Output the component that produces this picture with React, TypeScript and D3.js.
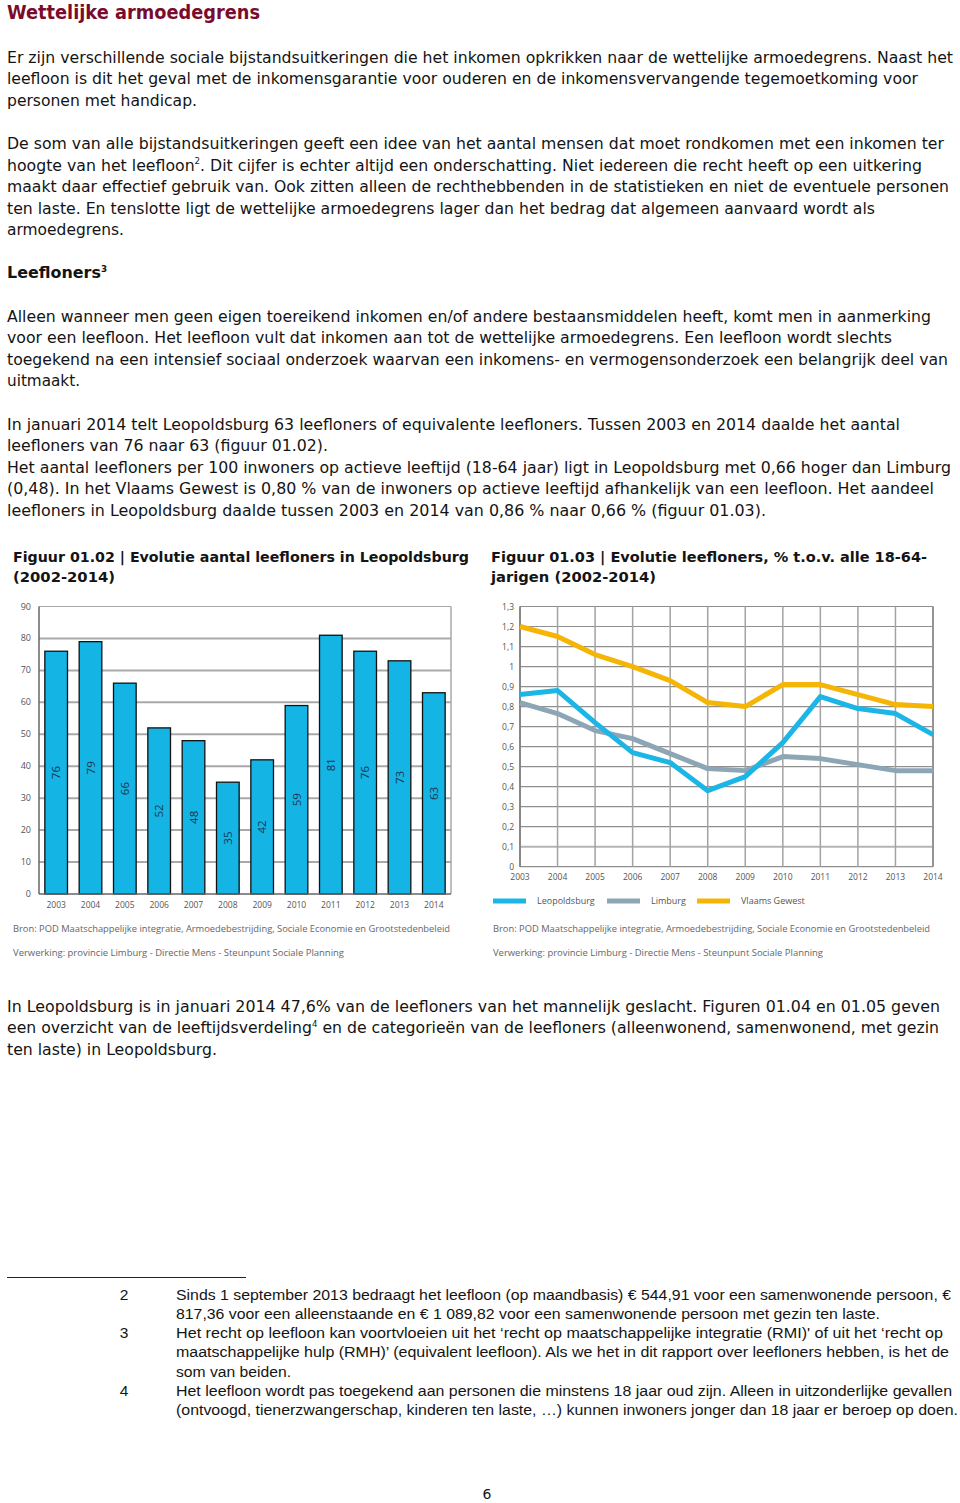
import React from "react";
import * as d3 from "d3";

// ---------- Chart data ----------
const barYears = ["2003", "2004", "2005", "2006", "2007", "2008", "2009", "2010", "2011", "2012", "2013", "2014"];
const barValues = [76, 79, 66, 52, 48, 35, 42, 59, 81, 76, 73, 63];
const barTicks = [0, 10, 20, 30, 40, 50, 60, 70, 80, 90];

const lineYears = ["2003", "2004", "2005", "2006", "2007", "2008", "2009", "2010", "2011", "2012", "2013", "2014"];
const leopoldsburg = [0.86, 0.88, 0.72, 0.57, 0.52, 0.38, 0.45, 0.62, 0.85, 0.79, 0.765, 0.66];
const limburg = [0.82, 0.765, 0.68, 0.64, 0.565, 0.49, 0.48, 0.55, 0.54, 0.51, 0.48, 0.48];
const vlaamsGewest = [1.2, 1.15, 1.06, 1.0, 0.93, 0.82, 0.8, 0.91, 0.91, 0.86, 0.81, 0.8];
const lineTicks = [0, 0.1, 0.2, 0.3, 0.4, 0.5, 0.6, 0.7, 0.8, 0.9, 1, 1.1, 1.2, 1.3];
const seriesNames = ["Leopoldsburg", "Limburg", "Vlaams Gewest"];

// ---------- Page text ----------
const title = "Wettelijke armoedegrens";
const para1 = [
  "Er zijn verschillende sociale bijstandsuitkeringen die het inkomen opkrikken naar de wettelijke armoedegrens. Naast het",
  "leefloon is dit het geval met de inkomensgarantie voor ouderen en de inkomensvervangende tegemoetkoming voor",
  "personen met handicap.",
];
const para2 = [
  "De som van alle bijstandsuitkeringen geeft een idee van het aantal mensen dat moet rondkomen met een inkomen ter",
  "hoogte van het leefloon^2. Dit cijfer is echter altijd een onderschatting. Niet iedereen die recht heeft op een uitkering",
  "maakt daar effectief gebruik van. Ook zitten alleen de rechthebbenden in de statistieken en niet de eventuele personen",
  "ten laste. En tenslotte ligt de wettelijke armoedegrens lager dan het bedrag dat algemeen aanvaard wordt als",
  "armoedegrens.",
];
const heading = "Leefloners^3";
const para3 = [
  "Alleen wanneer men geen eigen toereikend inkomen en/of andere bestaansmiddelen heeft, komt men in aanmerking",
  "voor een leefloon. Het leefloon vult dat inkomen aan tot de wettelijke armoedegrens. Een leefloon wordt slechts",
  "toegekend na een intensief sociaal onderzoek waarvan een inkomens- en vermogensonderzoek een belangrijk deel van",
  "uitmaakt.",
];
const para4 = [
  "In januari 2014 telt Leopoldsburg 63 leefloners of equivalente leefloners. Tussen 2003 en 2014 daalde het aantal",
  "leefloners van 76 naar 63 (figuur 01.02).",
  "Het aantal leefloners per 100 inwoners op actieve leeftijd (18-64 jaar) ligt in Leopoldsburg met 0,66 hoger dan Limburg",
  "(0,48). In het Vlaams Gewest is 0,80 % van de inwoners op actieve leeftijd afhankelijk van een leefloon. Het aandeel",
  "leefloners in Leopoldsburg daalde tussen 2003 en 2014 van 0,86 % naar 0,66 % (figuur 01.03).",
];
const fig1Title = ["Figuur 01.02 | Evolutie aantal leefloners in Leopoldsburg", "(2002-2014)"];
const fig2Title = ["Figuur 01.03 | Evolutie leefloners, % t.o.v. alle 18-64-", "jarigen (2002-2014)"];
const sourceLines = [
  "Bron: POD Maatschappelijke integratie, Armoedebestrijding, Sociale Economie en Grootstedenbeleid",
  "Verwerking: provincie Limburg - Directie Mens - Steunpunt Sociale Planning",
];
const para5 = [
  "In Leopoldsburg is in januari 2014 47,6% van de leefloners van het mannelijk geslacht. Figuren 01.04 en 01.05 geven",
  "een overzicht van de leeftijdsverdeling^4 en de categorieën van de leefloners (alleenwonend, samenwonend, met gezin",
  "ten laste) in Leopoldsburg.",
];
const footnoteNumbers = ["2", "3", "4"];
const footnotes = [
  [
    "Sinds 1 september 2013 bedraagt het leefloon (op maandbasis) € 544,91 voor een samenwonende persoon, €",
    "817,36 voor een alleenstaande en € 1 089,82 voor een samenwonende persoon met gezin ten laste.",
  ],
  [
    "Het recht op leefloon kan voortvloeien uit het ‘recht op maatschappelijke integratie (RMI)' of uit het ‘recht op",
    "maatschappelijke hulp (RMH)’ (equivalent leefloon). Als we het in dit rapport over leefloners hebben, is het de",
    "som van beiden.",
  ],
  [
    "Het leefloon wordt pas toegekend aan personen die minstens 18 jaar oud zijn. Alleen in uitzonderlijke gevallen",
    "(ontvoogd, tienerzwangerschap, kinderen ten laste, …) kunnen inwoners jonger dan 18 jaar er beroep op doen.",
  ],
];
const pageNumber = "6";

// ---------- Styling ----------
const BODY_FONT = "'DejaVu Sans', Verdana, sans-serif";
const NARROW_FONT = "'Liberation Sans Narrow', 'Liberation Sans', Arial, sans-serif";
const CHART_FONT = "'Open Sans', 'Noto Sans', sans-serif";
const TEXT_COLOR = "#141414";
const BAR_COLOR = "#14B4E4";
const SERIES_COLORS = ["#1CB6E6", "#8DA6B5", "#F5B505"];
const GRID = "#a9a9a9";

// layout helpers
const BODY_X = 7;
const LINE_H = 21.6;

type LineProps = {
  x: number;
  y: number;
  right?: number;
  text: string;
  size: number;
  family?: string;
  weight?: string | number;
  fill?: string;
};

function Line({ x, y, right, text, size, family = BODY_FONT, weight = "normal", fill = TEXT_COLOR }: LineProps) {
  const parts = text.split(/\^(\d)/);
  const supShift = size * 0.4;
  const children: React.ReactNode[] = [];
  let shifted = false;
  parts.forEach((p, i) => {
    if (i % 2 === 1) {
      children.push(
        <tspan key={i} dy={-supShift} fontSize={size * 0.55}>
          {p}
        </tspan>
      );
      shifted = true;
    } else if (p.length) {
      children.push(
        <tspan key={i} dy={shifted ? supShift : 0}>
          {p}
        </tspan>
      );
      shifted = false;
    }
  });
  const extra: any = {};
  if (right !== undefined) {
    extra.textLength = right - x;
    extra.lengthAdjust = "spacingAndGlyphs";
  }
  return (
    <text x={x} y={y} fontSize={size} fontFamily={family} fontWeight={weight} fill={fill} {...extra}>
      {children}
    </text>
  );
}

function Paragraph({ lines, top, rights }: { lines: string[]; top: number; rights: number[] }) {
  return (
    <g>
      {lines.map((l, i) => (
        <Line key={i} x={BODY_X} y={top + i * LINE_H} right={rights[i]} text={l} size={15.5} />
      ))}
    </g>
  );
}

// ---------- Bar chart ----------
function BarChart() {
  const left = 39, right = 451, top = 606.5, bottom = 894;
  const x = d3.scaleBand<string>().domain(barYears).range([left, right]).paddingInner(0.34).paddingOuter(0.17);
  const y = d3.scaleLinear().domain([0, 90]).range([bottom, top]);
  return (
    <g fontFamily={CHART_FONT}>
      {barTicks.map((t) => (
        <g key={t}>
          {t > 0 && <line x1={left} x2={right} y1={y(t)} y2={y(t)} stroke={GRID} strokeWidth={t === 90 ? 1.2 : 2} />}
          <text x={left - 8} y={y(t) + 3} textAnchor="end" fontSize={9} fill="#555">
            {t}
          </text>
        </g>
      ))}
      <line x1={right} x2={right} y1={top} y2={bottom} stroke={GRID} strokeWidth={1.5} />
      {barValues.map((v, i) => {
        const bx = x(barYears[i])!;
        const cx = bx + x.bandwidth() / 2;
        const cy = y(v / 2);
        return (
          <g key={i}>
            <rect x={bx} y={y(v)} width={x.bandwidth()} height={bottom - y(v)} fill={BAR_COLOR} stroke="#111" strokeWidth={1.3} />
            <text
              transform={`translate(${cx + 4},${cy}) rotate(-90)`}
              textAnchor="middle"
              fontSize={11.5}
              fill="#1b3650"
            >
              {v}
            </text>
          </g>
        );
      })}
      <line x1={left} x2={left} y1={top} y2={bottom} stroke="#666" strokeWidth={1.5} />
      <line x1={left} x2={right} y1={bottom} y2={bottom} stroke="#666" strokeWidth={1.5} />
      {barYears.map((yr) => (
        <text key={yr} x={x(yr)! + x.bandwidth() / 2} y={908} textAnchor="middle" fontSize={8.5} fill="#555">
          {yr}
        </text>
      ))}
    </g>
  );
}

// ---------- Line chart ----------
function LineChart() {
  const left = 520, right = 933, top = 606.5, bottom = 866.7;
  const x = d3.scalePoint<string>().domain(lineYears).range([left, right]);
  const y = d3.scaleLinear().domain([0, 1.3]).range([bottom, top]);
  const fmt = (v: number) => String(+v.toFixed(1)).replace(".", ",");
  const series = [leopoldsburg, limburg, vlaamsGewest];
  const gen = d3
    .line<number>()
    .x((_, i) => x(lineYears[i])!)
    .y((d) => y(d));
  const drawOrder = [2, 1, 0];
  const legendX = [493, 607, 697];
  return (
    <g fontFamily={CHART_FONT}>
      {lineTicks.map((t) => (
        <g key={t}>
          <line x1={left} x2={right} y1={y(t)} y2={y(t)} stroke={t === 0.1 ? "#b5b5b5" : "#8f8f8f"} strokeWidth={t === 0.1 ? 2 : 1.2} />
          <text x={left - 6} y={y(t) + 3} textAnchor="end" fontSize={8.5} fill="#555">
            {fmt(t)}
          </text>
        </g>
      ))}
      {lineYears.map((yr) => (
        <g key={yr}>
          <line x1={x(yr)} x2={x(yr)} y1={top} y2={bottom} stroke="#a3a3a3" strokeWidth={1.5} />
          <text x={x(yr)} y={880} textAnchor="middle" fontSize={8.5} fill="#555">
            {yr}
          </text>
        </g>
      ))}
      <line x1={left} x2={left} y1={top} y2={bottom} stroke="#777" strokeWidth={1.5} />
      <line x1={right} x2={right} y1={top} y2={bottom} stroke="#888" strokeWidth={1.5} />
      {drawOrder.map((k) => (
        <path key={k} d={gen(series[k]) || ""} fill="none" stroke={SERIES_COLORS[k]} strokeWidth={5} strokeLinejoin="round" />
      ))}
      {seriesNames.map((n, k) => (
        <g key={n}>
          <rect x={legendX[k]} y={898.5} width={33} height={5} fill={SERIES_COLORS[k]} />
          <text x={legendX[k] + 44} y={904} fontSize={9} fill="#555">
            {n}
          </text>
        </g>
      ))}
    </g>
  );
}

export default function App() {
  return (
    <svg
      width={960}
      height={1503}
      viewBox="0 0 960 1503"
      style={{ position: "absolute", left: 0, top: 0, background: "#fff" }}
    >
      <rect width={960} height={1503} fill="#fff" />
      <Line x={BODY_X} y={18.5} right={260} text={title} size={19} weight="bold" fill="#7a0b2c" />

      <Paragraph lines={para1} top={62.5} rights={[953, 918, 197]} />
      <Paragraph lines={para2} top={149} rights={[944, 922, 949, 875, 124]} />
      <Line x={BODY_X} y={278} right={107} text={heading} size={15.5} weight="bold" />
      <Paragraph lines={para3} top={321.5} rights={[931, 892, 948, 80]} />
      <Paragraph lines={para4} top={429.5} rights={[900, 328, 951, 934, 766]} />

      {fig1Title.map((t, i) => (
        <Line key={i} x={13} y={562 + i * 19.5} right={i === 0 ? 469 : 115} text={t} size={14.5} weight="bold"
          family="'DejaVu Sans Condensed', 'DejaVu Sans', sans-serif" />
      ))}
      {fig2Title.map((t, i) => (
        <Line key={i} x={491} y={562 + i * 19.5} right={i === 0 ? 927 : 656} text={t} size={14.5} weight="bold"
          family="'DejaVu Sans Condensed', 'DejaVu Sans', sans-serif" />
      ))}

      <BarChart />
      <LineChart />

      {sourceLines.map((s, i) => (
        <g key={i}>
          <Line x={13} y={932 + i * 24} right={i === 0 ? 450 : 344} text={s} size={8.5} family={CHART_FONT} fill="#666" />
          <Line x={493} y={932 + i * 24} right={i === 0 ? 930 : 823} text={s} size={8.5} family={CHART_FONT} fill="#666" />
        </g>
      ))}

      <Paragraph lines={para5} top={1011.5} rights={[940, 939, 217]} />

      <line x1={7} x2={246} y1={1277.5} y2={1277.5} stroke="#222" strokeWidth={1} />
      {(() => {
        const rights = [[951, 880], [943, 949, 291], [952, 958]];
        let row = 0;
        return footnotes.map((fn, k) => {
          const startRow = row;
          const g = (
            <g key={k}>
              <text x={124} y={1299.5 + startRow * 19.33} fontSize={15.5} fontFamily={NARROW_FONT} fill={TEXT_COLOR} textAnchor="middle">
                {footnoteNumbers[k]}
              </text>
              {fn.map((l, j) => (
                <Line key={j} x={176} y={1299.5 + (startRow + j) * 19.33} right={rights[k][j]} text={l} size={15.5} family={NARROW_FONT} />
              ))}
            </g>
          );
          row += fn.length;
          return g;
        });
      })()}

      <text x={487} y={1499} textAnchor="middle" fontSize={14} fontFamily={BODY_FONT} fill={TEXT_COLOR}>
        {pageNumber}
      </text>
    </svg>
  );
}
